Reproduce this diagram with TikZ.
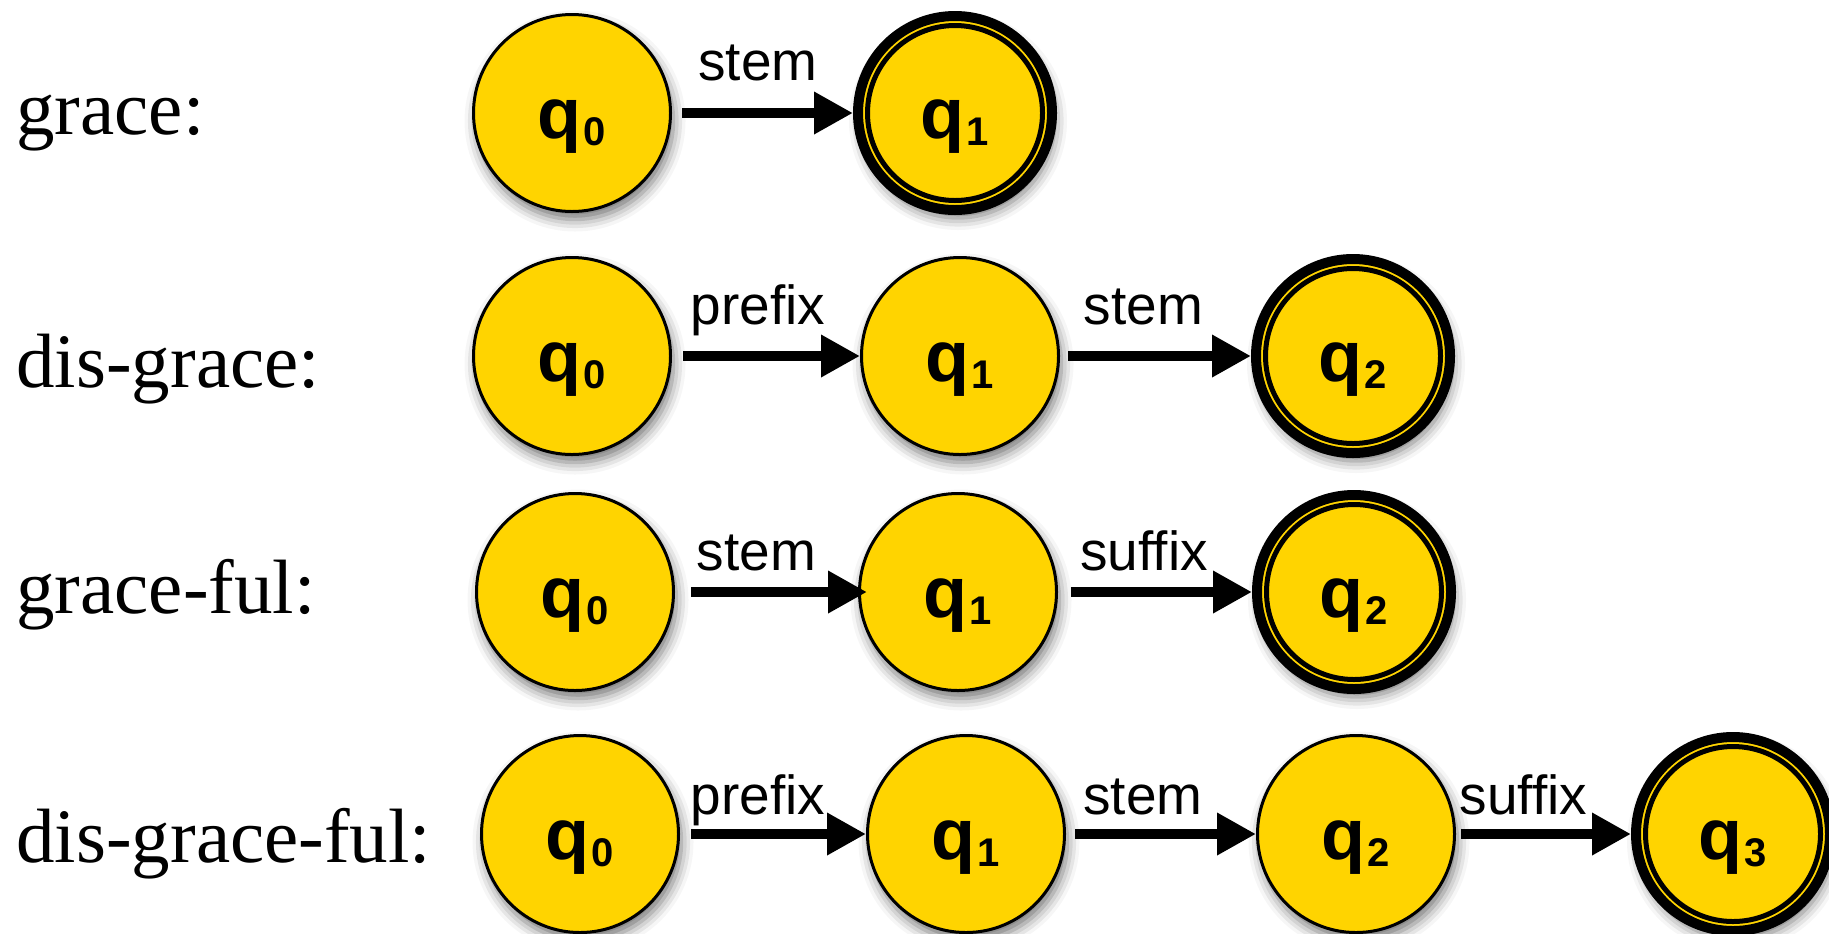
\documentclass[tikz,border=0pt]{standalone}
\usepackage{fontspec}
\setmainfont{Liberation Serif}
\newfontfamily\arialf{Liberation Sans}
\usetikzlibrary{arrows.meta,shadows.blur}
\definecolor{stateyellow}{RGB}{255,212,0}
\newcommand{\qst}[1]{{\fontsize{36}{36}\selectfont\bfseries q}\kern1pt{\fontsize{20}{20}\selectfont\bfseries\raisebox{-3.5pt}{#1}}}
\begin{document}
\begin{tikzpicture}[x=0.5pt,y=-0.5pt,
  state/.style={circle, draw=black, line width=1.5pt, fill=stateyellow,
    minimum size=98.5pt, inner sep=0pt, text height=32.5pt, text depth=7.5pt, font=\arialf,
    blur shadow={shadow xshift=1.5pt, shadow yshift=-4pt, shadow blur radius=6pt, shadow opacity=55}},
  accept/.style={state, line width=5pt, minimum size=97pt,
    path picture={\draw[black, line width=2.5pt] (path picture bounding box.center) circle[radius=43.75pt];}},
  trans/.style={-{Triangle[length=19.5pt,width=20pt]}, line width=5pt, black, shorten <=5pt},
  elabel/.style={font=\arialf\fontsize{27.5}{27.5}\selectfont, anchor=base, midway, inner sep=0pt},
  word/.style={font=\fontsize{38.5}{38.5}\selectfont, anchor=base west, inner sep=0pt}
]
\useasboundingbox (0,0) rectangle (1829,933);

% left words
\node[word] (w1) at (16,134) {grace:};
\node[word] (w2) at (16,387) {dis-grace:};
\node[word] (w3) at (16,613) {grace-ful:};
\node[word] (w4) at (16,862) {dis-grace-ful:};

% row 1
\node[state]  (r1q0) at (572,113) {\qst{0}};
\node[accept] (r1q1) at (955,113) {\qst{1}};
% row 2
\node[state]  (r2q0) at (572,356) {\qst{0}};
\node[state]  (r2q1) at (960,356) {\qst{1}};
\node[accept] (r2q2) at (1353,356) {\qst{2}};
% row 3
\node[state]  (r3q0) at (575,592) {\qst{0}};
\node[state]  (r3q1) at (958,592) {\qst{1}};
\node[accept] (r3q2) at (1354,592) {\qst{2}};
% row 4
\node[state]  (r4q0) at (580,834) {\qst{0}};
\node[state]  (r4q1) at (966,834) {\qst{1}};
\node[state]  (r4q2) at (1356,834) {\qst{2}};
\node[accept] (r4q3) at (1733,834) {\qst{3}};

% transitions
\draw[trans] (r1q0) -- (r1q1) node[elabel, xshift=-2.25pt, yshift=16.5pt] {stem};

\draw[trans, shorten <=5.5pt] (r2q0) -- (r2q1) node[elabel, xshift=-4pt, yshift=16pt] {prefix};
\draw[trans, shorten <=4pt] (r2q1) -- (r2q2) node[elabel, xshift=-6pt, yshift=16pt] {stem};

\draw[trans, shorten <=8pt, shorten >=-4.5pt] (r3q0) -- (r3q1) node[elabel, xshift=-5pt, yshift=11pt] {stem};
\draw[trans, shorten <=6.5pt] (r3q1) -- (r3q2) node[elabel, xshift=-5.5pt, yshift=11pt] {suffix};

\draw[trans, shorten <=5.5pt] (r4q0) -- (r4q1) node[elabel, xshift=-7.5pt, yshift=10pt] {prefix};
\draw[trans, shorten <=4.5pt] (r4q1) -- (r4q2) node[elabel, xshift=-9pt, yshift=10pt] {stem};
\draw[trans, shorten <=2.5pt] (r4q2) -- (r4q3) node[elabel, xshift=-10pt, yshift=10pt] {suffix};
\end{tikzpicture}
\end{document}
